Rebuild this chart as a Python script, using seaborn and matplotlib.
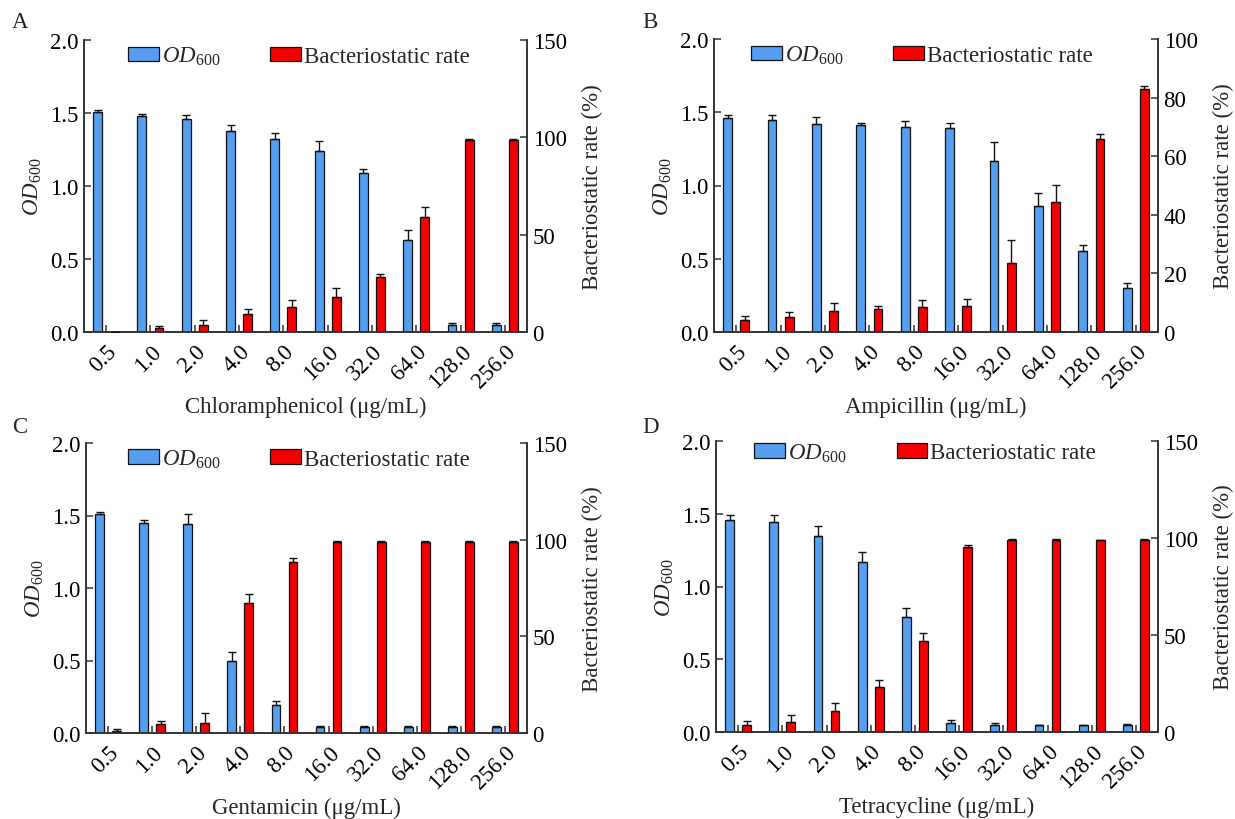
import numpy as np
import pandas as pd
import matplotlib
matplotlib.use("Agg")
import matplotlib.pyplot as plt
import seaborn as sns
from matplotlib.patches import Patch

# ---------------- data ----------------
conc = ["0.5", "1.0", "2.0", "4.0", "8.0", "16.0", "32.0", "64.0", "128.0", "256.0"]
drugs = ["Chloramphenicol", "Ampicillin", "Gentamicin", "Tetracycline"]
letters = ["A", "B", "C", "D"]

od_chl = [1.51, 1.48, 1.46, 1.38, 1.32, 1.24, 1.09, 0.63, 0.05, 0.05]
od_chl_err = [0.01, 0.015, 0.025, 0.04, 0.04, 0.065, 0.025, 0.07, 0.01, 0.01]
rate_chl = [0.0, 2.2, 3.8, 9.0, 12.8, 18.0, 28.0, 59.3, 98.5, 98.5]
rate_chl_err = [0.0, 1.1, 2.2, 3.0, 3.4, 4.5, 1.9, 4.9, 0.7, 0.7]

od_amp = [1.46, 1.45, 1.42, 1.41, 1.40, 1.39, 1.17, 0.86, 0.55, 0.30]
od_amp_err = [0.02, 0.03, 0.045, 0.02, 0.04, 0.035, 0.125, 0.09, 0.045, 0.035]
rate_amp = [4.2, 5.0, 7.0, 7.8, 8.5, 9.0, 23.5, 44.3, 66.0, 83.0]
rate_amp_err = [1.2, 1.8, 2.8, 1.2, 2.5, 2.2, 8.0, 5.8, 1.5, 1.0]

od_gen = [1.51, 1.45, 1.44, 0.50, 0.19, 0.04, 0.04, 0.04, 0.04, 0.04]
od_gen_err = [0.015, 0.02, 0.07, 0.06, 0.03, 0.01, 0.01, 0.01, 0.01, 0.01]
rate_gen = [0.8, 4.5, 5.2, 67.5, 88.5, 99.0, 99.0, 99.0, 99.0, 99.0]
rate_gen_err = [1.5, 1.5, 4.9, 4.5, 2.2, 0.4, 0.4, 0.4, 0.4, 0.4]

od_tet = [1.46, 1.44, 1.35, 1.17, 0.79, 0.06, 0.05, 0.045, 0.045, 0.045]
od_tet_err = [0.03, 0.05, 0.065, 0.07, 0.065, 0.02, 0.01, 0.0, 0.0, 0.01]
rate_tet = [3.7, 4.9, 10.9, 23.2, 46.9, 95.2, 99.0, 99.0, 99.0, 99.0]
rate_tet_err = [1.9, 3.7, 4.1, 3.7, 4.1, 1.1, 0.7, 0.4, 0.0, 0.7]

od_all = [od_chl, od_amp, od_gen, od_tet]
od_err_all = [od_chl_err, od_amp_err, od_gen_err, od_tet_err]
rate_all = [rate_chl, rate_amp, rate_gen, rate_tet]
rate_err_all = [rate_chl_err, rate_amp_err, rate_gen_err, rate_tet_err]
rate_max = [150, 100, 150, 150]
rate_step = [50, 20, 50, 50]

# ---------------- style ----------------
sns.set_theme(style="ticks")
plt.rcParams["font.family"] = ["Liberation Serif", "DejaVu Serif"]
plt.rcParams["mathtext.fontset"] = "custom"
plt.rcParams["mathtext.rm"] = "Liberation Serif"
plt.rcParams["mathtext.it"] = "Liberation Serif:italic"
FS = 16.5
BLUE = "#559EF0"
RED = "#F50000"
palette = {"OD": BLUE, "Rate": RED}
OD_LABEL = r"$\mathit{OD}_{\mathrm{600}}$"

fig = plt.figure(figsize=(12.35, 8.2), dpi=100)

# axes rectangles in figure pixels: left, right, top, bottom
rects = [(84, 527, 41, 333), (714, 1158, 40, 333),
         (86, 527, 444, 734), (716, 1158, 442, 733)]
leg_pos = [(0.099, 0.945), (0.083, 0.945), (0.095, 0.945), (0.086, 0.96)]
letter_pos = [(12, 22), (642, 22), (12, 428), (642, 428)]

W, H = 1235, 820
for i in range(4):
    l, r, t, b = rects[i]
    ax = fig.add_axes([l / W, 1 - b / H, (r - l) / W, (b - t) / H])
    ax2 = ax.twinx()

    df_od = pd.DataFrame({"conc": conc, "series": "OD", "value": od_all[i]})
    df_rate = pd.DataFrame({"conc": conc, "series": "Rate", "value": rate_all[i]})

    common = dict(x="conc", y="value", hue="series", hue_order=["OD", "Rate"],
                  order=conc, palette=palette, dodge=True, width=0.77, gap=0.48,
                  saturation=1, edgecolor="#111111", linewidth=0.9,
                  errorbar=None, legend=False)
    sns.barplot(data=df_od, ax=ax, **common)
    sns.barplot(data=df_rate, ax=ax2, **common)

    # error bars (upper only)
    for a, vals, errs in ((ax, od_all[i], od_err_all[i]), (ax2, rate_all[i], rate_err_all[i])):
        bars = [p for c in a.containers for p in c]
        xs = [p.get_x() + p.get_width() / 2 for p in bars]
        a.errorbar(xs, vals, yerr=[np.zeros(len(vals)), errs], fmt="none",
                   ecolor="#111111", elinewidth=1.0, capsize=3, capthick=1.0, zorder=5)

    ax.set_xlim(-0.5, 9.5)
    ax.set_ylim(0, 2.0)
    ax.set_yticks(np.arange(0, 2.01, 0.5))
    ax.set_yticklabels([f"{v:.1f}" for v in np.arange(0, 2.01, 0.5)], fontsize=FS)
    ax2.set_ylim(0, rate_max[i])
    ticks2 = np.arange(0, rate_max[i] + 0.1, rate_step[i])
    ax2.set_yticks(ticks2)
    ax2.set_yticklabels([f"{int(v)}" for v in ticks2], fontsize=FS)

    ax.set_xticks(range(len(conc)))
    ax.set_xticklabels(conc, rotation=45, ha="right", rotation_mode="anchor", fontsize=FS)

    ax.set_xlabel(f"{drugs[i]} (μg/mL)", fontsize=FS, labelpad=3)
    ax.set_ylabel(OD_LABEL, fontsize=FS, labelpad=4)
    ax2.set_ylabel("Bacteriostatic rate (%)", fontsize=FS, labelpad=11)

    for a in (ax, ax2):
        a.spines["top"].set_visible(False)
        for s in ("left", "right", "bottom"):
            a.spines[s].set_linewidth(1.2)
            a.spines[s].set_color("#333333")
        a.tick_params(direction="in", length=5, width=1.1, colors="#333333",
                      labelcolor="black", pad=4)
    ax.tick_params(axis="x", pad=6)

    handles = [Patch(facecolor=BLUE, edgecolor="#111111", linewidth=0.9, label=OD_LABEL),
               Patch(facecolor=RED, edgecolor="#111111", linewidth=0.9, label="Bacteriostatic rate")]
    ax2.legend(handles=handles, loc="center left", bbox_to_anchor=leg_pos[i],
               ncol=2, frameon=False, fontsize=FS, borderpad=0, borderaxespad=0,
               handlelength=1.35, handleheight=0.6, handletextpad=0.12,
               columnspacing=2.2)

    fig.text(letter_pos[i][0] / W, 1 - letter_pos[i][1] / H, letters[i],
             fontsize=FS, ha="left", va="center")

fig.savefig("out.png", dpi=100)
